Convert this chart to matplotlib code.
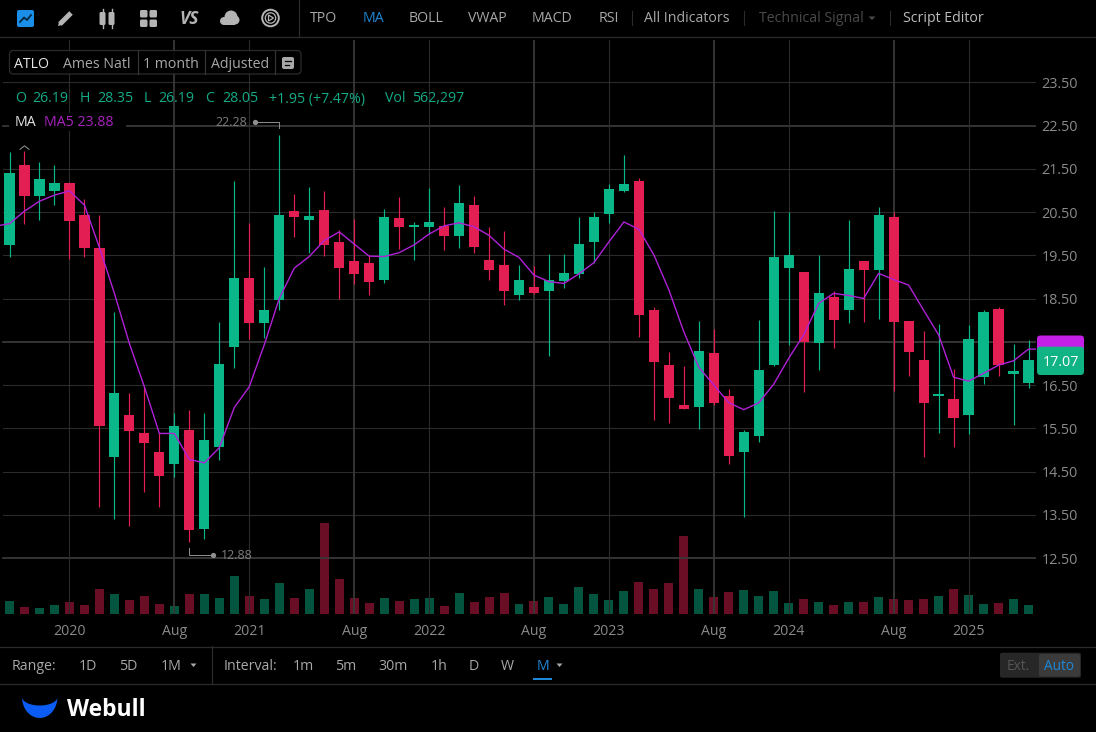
import matplotlib
matplotlib.use("Agg")
import matplotlib.pyplot as plt
import numpy as np
from matplotlib.patches import Circle, FancyBboxPatch, Polygon, Rectangle

plt.rcParams["font.family"] = ["Open Sans", "DejaVu Sans"]

WIDTH = 1096
HEIGHT = 732
BG = "#000000"
GREEN = "#0ab788"
RED = "#e31e52"
PURPLE = "#b021d8"
BLUE = "#1e88d8"
GREY = "#a8a8a8"
AXIS_TEXT = "#8a8a8a"
LINE = "#2b2b2b"

# monthly candles, Sep 2019 onwards
opens = [
    19.74, 21.59, 20.87, 20.99, 21.17, 20.43, 19.67, 14.83, 15.81, 15.38, 14.95, 14.68,
    15.46, 13.18, 15.07, 17.39, 18.98, 17.94, 18.47, 20.52, 20.31, 20.55, 19.81, 19.36,
    19.32, 18.93, 20.36, 20.15, 20.15, 20.18, 19.94, 20.66, 19.39, 19.28, 18.57, 18.77,
    18.68, 18.91, 19.07, 19.81, 20.46, 20.99, 21.22, 18.23, 16.96, 16.03, 16.00, 17.23,
    16.25, 14.95, 15.33, 16.96, 19.21, 19.11, 17.47, 18.53, 18.24, 19.37, 19.15, 20.38,
    17.98, 17.09, 16.25, 16.18, 15.81, 16.68, 18.25, 16.76, 16.55,
]
highs = [
    21.89, 21.92, 21.65, 21.59, 21.19, 20.79, 20.43, 18.18, 16.31, 16.46, 15.39, 15.85,
    15.92, 15.86, 17.96, 21.22, 20.25, 19.22, 22.28, 20.92, 21.08, 20.99, 20.08, 20.35,
    19.51, 20.57, 20.84, 20.28, 21.06, 20.62, 21.12, 20.88, 20.15, 20.05, 19.28, 19.25,
    19.53, 19.53, 20.38, 20.51, 21.15, 21.82, 21.28, 18.31, 17.26, 16.95, 17.99, 17.80,
    16.40, 15.46, 18.00, 20.52, 20.49, 19.11, 19.51, 18.67, 20.32, 19.37, 20.61, 20.51,
    17.98, 17.76, 17.90, 16.87, 17.88, 18.23, 18.30, 17.44, 17.54,
]
lows = [
    19.45, 20.23, 20.32, 20.66, 19.41, 19.47, 13.67, 13.40, 13.25, 14.02, 13.69, 14.37,
    12.88, 12.93, 14.76, 16.89, 17.57, 17.58, 18.23, 19.93, 19.55, 19.49, 18.50, 18.84,
    18.57, 18.85, 19.65, 19.39, 19.99, 19.62, 19.67, 19.55, 18.93, 18.36, 18.47, 18.61,
    17.17, 18.74, 18.97, 19.31, 20.24, 20.97, 17.60, 15.69, 15.62, 15.94, 15.48, 16.04,
    14.67, 13.44, 15.18, 16.94, 17.43, 16.35, 16.84, 17.35, 17.93, 17.96, 18.02, 16.37,
    16.71, 14.84, 15.38, 15.07, 15.36, 16.52, 16.72, 15.58, 16.43,
]
closes = [
    21.40, 20.88, 21.26, 21.17, 20.29, 19.67, 15.55, 16.31, 15.44, 15.16, 14.40, 15.55,
    13.15, 15.23, 16.99, 18.97, 17.94, 18.24, 20.43, 20.38, 20.40, 19.74, 19.21, 19.07,
    18.88, 20.38, 20.16, 20.19, 20.26, 19.94, 20.70, 19.69, 19.16, 18.67, 18.93, 18.62,
    18.92, 19.10, 19.76, 20.38, 21.03, 21.14, 18.13, 17.03, 16.19, 15.94, 17.29, 16.08,
    14.87, 15.42, 16.85, 19.46, 19.51, 17.50, 18.62, 18.00, 19.18, 19.16, 20.43, 17.96,
    17.26, 16.09, 16.29, 15.74, 17.57, 18.19, 16.96, 16.83, 17.07,
]
# starts one month before the first candle
ma5 = [
    20.17, 20.23, 20.52, 20.75, 20.89, 20.99, 20.66, 19.68, 18.62, 17.46, 16.46, 15.38,
    15.38, 14.78, 14.70, 15.05, 15.98, 16.46, 17.43, 18.50, 19.20, 19.47, 19.84, 20.04,
    19.76, 19.48, 19.47, 19.56, 19.74, 19.99, 20.18, 20.25, 20.16, 19.96, 19.64, 19.45,
    19.04, 18.89, 18.85, 19.07, 19.33, 19.81, 20.27, 20.10, 19.51, 18.70, 17.73, 16.91,
    16.50, 16.09, 15.93, 16.09, 16.52, 17.12, 17.66, 18.39, 18.62, 18.57, 18.50, 19.08,
    18.94, 18.81, 18.23, 17.66, 16.68, 16.59, 16.77, 16.96, 17.06, 17.33,
]
# thousands of shares
volumes = [
    127, 67, 60, 90, 123, 87, 250, 203, 137, 177, 97, 77, 200, 200, 157, 377, 183, 153,
    310, 160, 247, 913, 350, 157, 107, 163, 130, 150, 160, 83, 207, 120, 167, 210, 103,
    127, 170, 103, 273, 203, 137, 230, 317, 247, 313, 783, 247, 170, 220, 240, 180, 227,
    110, 147, 117, 90, 117, 120, 170, 150, 143, 147, 180, 253, 190, 103, 113, 150, 93,
]
price_ticks = [12.5, 13.5, 14.5, 15.5, 16.5, 17.5, 18.5, 19.5, 20.5, 21.5, 22.5, 23.5]
heavy_prices = [12.5, 17.5, 22.5]
date_ticks = [4, 11, 16, 23, 28, 35, 40, 47, 52, 59, 64]
date_labels = ["2020", "Aug", "2021", "Aug", "2022", "Aug", "2023", "Aug", "2024", "Aug", "2025"]

top_menu = [("TPO", 324, GREY), ("MA", 373, BLUE), ("BOLL", 426, GREY), ("VWAP", 487, GREY),
            ("MACD", 552, GREY), ("RSI", 608.5, GREY), ("All Indicators", 687, GREY),
            ("Technical Signal", 811, "#4a4a4a"), ("Script Editor", 943, "#bdbdbd")]
ohlc_row = [("O", 15), ("26.19", 32.6), ("H", 80), ("28.35", 97.5), ("L", 144), ("26.19", 158.6),
            ("C", 205.6), ("28.05", 221.8), ("+1.95 (+7.47%)", 269), ("Vol", 385), ("562,297", 412)]
range_items = [("1D", 88), ("5D", 128.6), ("1M", 170.7)]
interval_items = [("1m", 303.5), ("5m", 346), ("30m", 393.4), ("1h", 439), ("D", 474), ("W", 507.5)]


def pixel_box(left, top, right, bottom):
    return [left / WIDTH, 1 - bottom / HEIGHT, (right - left) / WIDTH, (bottom - top) / HEIGHT]


def rounded(ui, x0, y0, x1, y1, r=3, **kwargs):
    box = FancyBboxPatch((x0 + r, y0 + r), x1 - x0 - 2 * r, y1 - y0 - 2 * r,
                         boxstyle="round,pad={},rounding_size={}".format(r, r), **kwargs)
    ui.add_patch(box)


def label(ui, x, y, text, color=GREY, size=10.2, ha="center", **kwargs):
    # Open Sans sits about a pixel high when centred
    ui.text(x, y + 1, text, color=color, fontsize=size, ha=ha, va="center", **kwargs)


def draw_chart(fig):
    ax_vol = fig.add_axes(pixel_box(0, 40, 1036, 614), zorder=1)
    ax = fig.add_axes(pixel_box(0, 40, 1036, 614), zorder=2)
    ax.patch.set_alpha(0)
    ax_vol.set_facecolor(BG)

    index = np.arange(len(opens))
    up = np.array(closes) >= np.array(opens)
    colors = np.where(up, GREEN, RED)

    ax_vol.bar(index, volumes, width=0.6, color=colors, alpha=0.47)
    ax_vol.set_xlim(-0.634, 68.5)
    ax_vol.set_ylim(0, 5740)
    ax_vol.axis("off")

    for price in price_ticks:
        heavy = price in heavy_prices
        ax.axhline(price, xmin=0.003, color="#383838" if heavy else LINE, lw=1.3 if heavy else 0.8, zorder=1)
    for i, name in zip(date_ticks, date_labels):
        heavy = name == "Aug"
        ax.axvline(i, color="#383838" if heavy else LINE, lw=1.3 if heavy else 0.8, zorder=1)

    ax.vlines(index, lows, highs, colors=colors, lw=0.85, zorder=3)
    bottoms = np.minimum(opens, closes)
    heights = np.abs(np.array(closes) - np.array(opens))
    ax.bar(index, heights, bottom=bottoms, width=0.68, color=colors, zorder=4)

    ma_x = np.arange(-1, len(opens))
    ax.plot(np.append(ma_x, 68.5), ma5 + ma5[-1:], color=PURPLE, lw=1.0, zorder=5)

    # high / low callouts
    hi = int(np.argmax(highs))
    lo = int(np.argmin(lows))
    note = "#8f8f8f"
    ax.plot([hi, hi, hi - 1.62], [highs[hi] + 0.16, highs[hi] + 0.30, highs[hi] + 0.30], color=note, lw=0.7, zorder=5)
    ax.plot([hi - 1.62], [highs[hi] + 0.30], "o", color=note, ms=2.8, zorder=5)
    ax.text(hi - 2.15, highs[hi] + 0.30, "{:.2f}".format(highs[hi]), color="#7d7d7d", fontsize=9, ha="right", va="center")
    ax.plot([lo, lo, lo + 1.6], [lows[lo] - 0.15, lows[lo] - 0.31, lows[lo] - 0.31], color=note, lw=0.7, zorder=5)
    ax.plot([lo + 1.6], [lows[lo] - 0.31], "o", color=note, ms=2.8, zorder=5)
    ax.text(lo + 2.1, lows[lo] - 0.31, "{:.2f}".format(lows[lo]), color="#7d7d7d", fontsize=9, ha="left", va="center")
    # marks the earlier high on the chart edge
    ax.plot([0.7, 1, 1.3], [21.95, 22.03, 21.95], color="#999999", lw=0.7, zorder=5)

    ax.set_xlim(-0.634, 68.5)
    ax.set_ylim(11.206, 24.477)
    ax.set_xticks(date_ticks, date_labels)
    ax.set_yticks(price_ticks, ["{:.2f}".format(p) for p in price_ticks])
    ax.yaxis.tick_right()
    ax.tick_params(axis="y", length=0, pad=4, labelsize=10.4, labelcolor=AXIS_TEXT)
    ax.tick_params(axis="x", length=0, pad=7.5, labelsize=10.2, labelcolor=AXIS_TEXT)
    for spine in ax.spines.values():
        spine.set_visible(False)


def draw_icons(ui):
    icon = "#b4b4b4"
    rounded(ui, 17, 10, 34, 27, r=2, fc="#1b8fe8", ec="none")
    ui.plot([20, 24, 27, 31], [22, 17.5, 20, 15], color="#06263f", lw=1.3)
    # pencil
    ui.plot([60, 71], [24, 13], color=icon, lw=3.6, solid_capstyle="butt")
    ui.add_patch(Polygon([[58, 26], [59, 22], [62, 25]], fc=icon, ec="none"))
    # candles
    for x in [102.5, 111.5]:
        rounded(ui, x - 3, 12, x + 3, 25, r=1.5, fc=icon, ec="none")
        ui.plot([x, x], [9, 28], color=icon, lw=1)
    # layout grid
    for x in [140, 149.5]:
        for y in [10, 19.5]:
            rounded(ui, x, y, x + 7.5, y + 7.5, r=1.5, fc=icon, ec="none")
    ui.text(189, 18.5, "VS", color=icon, fontsize=12.5, fontweight="bold", fontstyle="italic", ha="center", va="center")
    # cloud
    ui.add_patch(Circle((231, 17), 6.5, fc=icon, ec="none"))
    ui.add_patch(Circle((235, 20), 4.5, fc=icon, ec="none"))
    ui.add_patch(Circle((224, 21), 4, fc=icon, ec="none"))
    ui.add_patch(Rectangle((224, 20), 11, 5, fc=icon, ec="none"))
    # replay
    ui.add_patch(Circle((270.5, 18), 8.3, fc="none", ec=icon, lw=1.4))
    ui.add_patch(Circle((270.5, 18), 5.2, fc="none", ec=icon, lw=0.9))
    ui.add_patch(Polygon([[268.5, 15], [268.5, 21], [273.5, 18]], fc="none", ec=icon, lw=0.9))


def draw_chrome(ui):
    ui.axhline(36.5, color=LINE, lw=0.9)
    ui.axhline(646.5, color=LINE, lw=0.9)
    ui.axhline(683.5, color=LINE, lw=0.9)
    ui.plot([298.6, 298.6], [0, 36], color=LINE, lw=0.9)
    for x in [631.5, 744, 890]:
        ui.plot([x, x], [11, 25], color=LINE, lw=0.8)
    draw_icons(ui)
    for text, x, color in top_menu:
        label(ui, x, 18, text, color=color)
    ui.add_patch(Polygon([[868.5, 16.5], [875.5, 16.5], [872, 20]], fc="#4a4a4a", ec="none"))

    # symbol box
    rounded(ui, 9.5, 50.5, 301, 74, r=4, fc="#000000", ec="#333333", lw=0.9, alpha=0.85)
    for x in [138, 205, 275]:
        ui.plot([x, x], [51, 74], color="#333333", lw=0.9)
    label(ui, 31.6, 63, "ATLO", color="#e6e6e6")
    label(ui, 96.5, 63, "Ames Natl")
    label(ui, 171, 63, "1 month")
    label(ui, 240, 63, "Adjusted")
    rounded(ui, 282, 57, 294, 69, r=2, fc="#a8a8a8", ec="none")
    ui.plot([285, 291], [61, 61], color="#000000", lw=0.9)
    ui.plot([285, 289], [64.5, 64.5], color="#000000", lw=0.9)

    for text, x in ohlc_row:
        label(ui, x, 98, text, color="#14ab87", ha="left")
    ui.add_patch(Rectangle((9, 113), 117, 18, fc=BG, ec="none"))
    label(ui, 15, 122, "MA", color="#e6e6e6", ha="left")
    label(ui, 43.5, 122, "MA5 23.88", color="#a822c0", ha="left")

    # last price tags, the MA one sits behind the close
    rounded(ui, 1037, 335.5, 1084, 356, r=3.5, fc="#c41fe6", ec="none", zorder=2)
    rounded(ui, 1037, 346.7, 1084, 375, r=3.5, fc="#10b384", ec="none", zorder=3)
    label(ui, 1060.5, 361, "17.07", color="#ffffff", size=10.4, zorder=4)

    # range bar
    label(ui, 11.5, 665, "Range:", ha="left")
    for text, x in range_items:
        label(ui, x, 665, text)
    ui.add_patch(Polygon([[190.5, 663.5], [196.5, 663.5], [193.5, 667]], fc=GREY, ec="none"))
    ui.plot([211.6, 211.6], [646, 683], color=LINE, lw=0.9)
    label(ui, 224, 665, "Interval:", ha="left")
    for text, x in interval_items:
        label(ui, x, 665, text)
    label(ui, 542.7, 665, "M", color=BLUE)
    ui.add_patch(Rectangle((533, 678), 19, 2, fc=BLUE, ec="none"))
    ui.add_patch(Polygon([[556.5, 663.5], [562.5, 663.5], [559.5, 667]], fc=GREY, ec="none"))

    rounded(ui, 1000, 652.7, 1081, 677.7, r=2, fc="#272727", ec="none")
    rounded(ui, 1039, 654, 1080, 676.5, r=2, fc="#3b3b3b", ec="none")
    label(ui, 1018, 665, "Ext.", color="#555555", size=9.8)
    label(ui, 1059.3, 665, "Auto", color=BLUE, size=9.8)

    # logo
    t = np.linspace(0, np.pi, 60)
    outer = np.column_stack([39.7 - 17.7 * np.cos(t), 697 + 21 * np.sin(t)])
    inner = np.column_stack([39.7 + 17.7 * np.cos(t), 697 + 8.5 * np.sin(t)])
    ui.add_patch(Polygon(np.vstack([outer, inner]), fc="#0a5cf5", ec="none"))
    ui.text(67, 709.5, "Webull", color="#ffffff", fontsize=16.5, fontweight="bold", ha="left", va="center")


def main():
    fig = plt.figure(figsize=(WIDTH / 100, HEIGHT / 100), dpi=100, facecolor=BG)
    draw_chart(fig)

    ui = fig.add_axes([0, 0, 1, 1], zorder=3)
    ui.patch.set_alpha(0)
    ui.set_xlim(0, WIDTH)
    ui.set_ylim(HEIGHT, 0)
    ui.axis("off")
    draw_chrome(ui)

    fig.savefig("out.png", dpi=100, facecolor=BG)


if __name__ == "__main__":
    main()
